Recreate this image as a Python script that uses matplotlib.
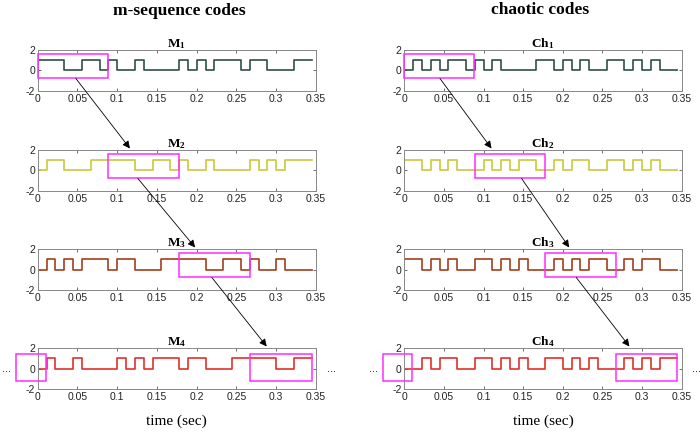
import numpy as np
import matplotlib
matplotlib.use('Agg')
from matplotlib import pyplot as plt
from matplotlib.patches import Rectangle, ConnectionPatch

# chip sequences (31 chips each)
m1 = [1, 1, 1, 0, 0, 1, 1, 0, 1, 0, 0, 1, 0, 0, 0, 0, 1, 0, 1, 0, 1, 1, 1, 0, 1, 1, 0, 0, 0, 1, 1]
m2 = [0, 1, 1, 0, 0, 0, 1, 1, 1, 1, 1, 0, 0, 1, 1, 0, 1, 0, 0, 1, 0, 0, 0, 0, 1, 0, 1, 0, 1, 1, 1]
m3 = [0, 1, 0, 1, 0, 1, 1, 1, 0, 1, 1, 0, 0, 0, 1, 1, 1, 1, 1, 0, 0, 1, 1, 0, 1, 0, 0, 1, 0, 0, 0]
m4 = [0, 1, 0, 0, 1, 0, 0, 0, 0, 1, 0, 1, 0, 1, 1, 1, 0, 1, 1, 0, 0, 0, 1, 1, 1, 1, 1, 0, 0, 1, 1]

ch1 = [0, 1, 0, 1, 0, 1, 1, 0, 1, 0, 1, 0, 0, 0, 0, 1, 1, 0, 1, 0, 1, 0, 0, 1, 1, 0, 1, 0, 1, 0, 0]
ch2 = [1, 1, 0, 1, 0, 1, 0, 0, 0, 1, 0, 1, 0, 1, 1, 0, 0, 1, 0, 1, 1, 0, 0, 1, 1, 0, 1, 0, 1, 0, 0]
ch3 = [1, 1, 0, 1, 0, 1, 0, 0, 1, 1, 0, 1, 0, 1, 0, 0, 0, 1, 0, 1, 0, 1, 1, 0, 0, 1, 0, 1, 1, 0, 0]
ch4 = [0, 0, 1, 0, 1, 1, 0, 0, 1, 1, 0, 1, 0, 1, 0, 0, 1, 1, 0, 1, 0, 1, 0, 0, 0, 1, 0, 1, 0, 1, 1]

chipTime = 1.0 / 90
mCodes = [m1, m2, m3, m4]
chCodes = [ch1, ch2, ch3, ch4]
mNames = ['M', 'M', 'M', 'M']
chNames = ['Ch', 'Ch', 'Ch', 'Ch']
rowColors = ['#2f4f44', '#c8c83c', '#a33e1c', '#e2302a']

# highlighted windows (start, end) in seconds
boxStarts = [0.0, 0.0889, 0.178, 0.267]
boxEnds = [0.0885, 0.178, 0.267, 0.3445]

xTicks = [0, 0.05, 0.1, 0.15, 0.2, 0.25, 0.3, 0.35]
xTickLabels = ['0', '0.05', '0.1', '0.15', '0.2', '0.25', '0.3', '0.35']

# arrow x positions (start in upper axes, end in lower axes)
mArrows = [(0.048, 0.116), (0.126, 0.198), (0.219, 0.288)]
chArrows = [(0.045, 0.110), (0.148, 0.208), (0.217, 0.284)]

plt.rcParams['mathtext.fontset'] = 'custom'
plt.rcParams['mathtext.bf'] = 'Liberation Serif:bold'
plt.rcParams['mathtext.rm'] = 'Liberation Serif'
plt.rcParams['font.family'] = 'Liberation Sans'

W, H = 700.0, 436.0
fig = plt.figure(figsize=(7, 4.36), dpi=100)

colLeft = [37.7, 404.3]
colWidth = [278.3, 277.4]
rowTop = [50, 150, 249, 348]
rowHeight = 41

magenta = '#ff2cff'

def makeAxes(col, row):
    ax = fig.add_axes([colLeft[col] / W, 1 - (rowTop[row] + rowHeight) / H,
                       colWidth[col] / W, rowHeight / H])
    ax.set_xlim(0, 0.35)
    ax.set_ylim(-2, 2)
    ax.set_xticks(xTicks)
    ax.set_xticklabels(xTickLabels)
    ax.set_yticks([-2, 0, 2])
    ax.set_yticklabels(['-2', '0', '2'])
    ax.tick_params(direction='in', top=True, right=True, labelsize=7.5,
                   length=2.5, width=0.6, color='#555555', pad=2, labelcolor='#222222')
    for s in ax.spines.values():
        s.set_color('#888888')
        s.set_linewidth(0.7)
    return ax

axesCols = [[], []]
for col, codes, names in [(0, mCodes, mNames), (1, chCodes, chNames)]:
    for row in range(4):
        ax = makeAxes(col, row)
        code = codes[row]
        t = np.arange(len(code) + 1) * chipTime
        vals = list(code) + [code[-1]]
        ax.step(t, vals, where='post', color=rowColors[row], lw=1.2)
        ax.set_title(r'$\mathbf{' + names[row] + '_' + str(row + 1) + '}$',
                     fontsize=9.5, pad=2)
        if row < 3:
            y0, y1 = -0.78, 1.62
        else:
            y0, y1 = -1.2, 1.45
        ax.add_patch(Rectangle((boxStarts[row], y0), boxEnds[row] - boxStarts[row], y1 - y0,
                               fill=False, edgecolor=magenta, lw=1.1, clip_on=False, zorder=5))
        if row == 3:
            ax.add_patch(Rectangle((-0.027, y0), 0.037, y1 - y0, fill=False,
                                   edgecolor=magenta, lw=1.1, clip_on=False, zorder=5))
            ax.text(-0.039, 0, '...', ha='center', va='center', fontsize=8, clip_on=False)
            ax.text(0.369, 0, '...', ha='center', va='center', fontsize=8, clip_on=False)
            ax.set_xlabel('time (sec)', fontname='Liberation Serif', fontsize=11, labelpad=9)
        axesCols[col].append(ax)

for col, arrows in [(0, mArrows), (1, chArrows)]:
    for i, (xa, xb) in enumerate(arrows):
        con = ConnectionPatch(xyA=(xa, -0.78), coordsA=axesCols[col][i].transData,
                              xyB=(xb, 2.15), coordsB=axesCols[col][i + 1].transData,
                              arrowstyle='-|>', mutation_scale=11, lw=0.6, color='black',
                              zorder=10)
        fig.add_artist(con)

fig.text(179 / W, 1 - 11 / H, 'm-sequence codes', ha='center', va='center',
         fontname='Liberation Serif', fontweight='bold', fontsize=12.5)
fig.text(540 / W, 1 - 10 / H, 'chaotic codes', ha='center', va='center',
         fontname='Liberation Serif', fontweight='bold', fontsize=12.5)

plt.savefig('out.png', dpi=100)
